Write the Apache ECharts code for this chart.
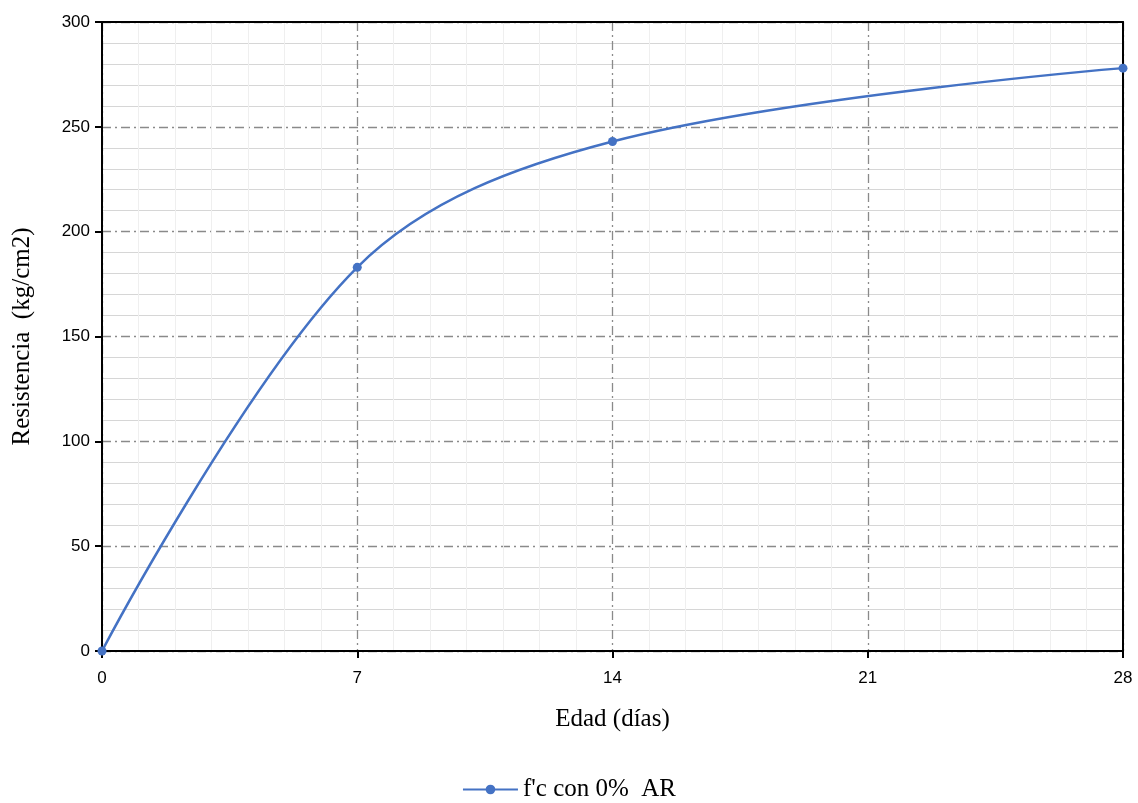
<!DOCTYPE html>
<html><head><meta charset="utf-8">
<script src="https://cdn.jsdelivr.net/npm/echarts@6/dist/echarts.min.js"></script>
<style>html,body{margin:0;padding:0;background:#fff}#c{width:1138px;height:803px}</style>
</head><body><div id="c"></div>
<script>
const edades = [0, 7, 14, 28];
const resistencia = [0, 183, 243, 278];
const xTicks = [0, 7, 14, 21, 28];
const yTicks = [0, 50, 100, 150, 200, 250, 300];
const seriesName = "f'c con 0%  AR";

const chart = echarts.init(document.getElementById('c'));
const dashDot = [9, 4, 2, 4];
chart.setOption({
  animation: false,
  grid: {left: 102, right: 15, top: 22, bottom: 152, outerBoundsMode: 'none', containLabel: false},
  legend: {
    bottom: -4, left: 'center', itemWidth: 55, itemHeight: 12, itemGap: 6,
    textStyle: {fontFamily: 'Liberation Serif', fontSize: 25, color: '#000'},
    data: [{name: seriesName}]
  },
  xAxis: [{
    type: 'value', min: 0, max: 28, interval: 7,
    name: 'Edad (días)', nameLocation: 'middle', nameGap: 56,
    nameTextStyle: {fontFamily: 'Liberation Serif', fontSize: 25, color: '#000'},
    axisLine: {show: true, onZero: false, lineStyle: {color: '#000', width: 2}},
    axisTick: {show: true, length: 7, lineStyle: {color: '#000', width: 2}},
    axisLabel: {fontFamily: 'Liberation Sans', fontSize: 17, color: '#000', margin: 19},
    splitLine: {show: true, lineStyle: {color: '#8a8a8a', width: 1.3, type: dashDot}},
    minorTick: {show: false, splitNumber: 7},
    minorSplitLine: {show: true, lineStyle: {color: '#efefef', width: 1}}
  }, {
    type: 'value', position: 'top', min: 0, max: 28, interval: 7,
    axisLine: {show: true, onZero: false, lineStyle: {color: '#000', width: 2}},
    axisTick: {show: false}, axisLabel: {show: false}, splitLine: {show: false}
  }],
  yAxis: [{
    type: 'value', min: 0, max: 300, interval: 50,
    name: 'Resistencia  (kg/cm2)', nameLocation: 'middle', nameGap: 67,
    nameTextStyle: {fontFamily: 'Liberation Serif', fontSize: 25, color: '#000'},
    axisLine: {show: true, onZero: false, lineStyle: {color: '#000', width: 2}},
    axisTick: {show: true, length: 7, lineStyle: {color: '#000', width: 2}},
    axisLabel: {fontFamily: 'Liberation Sans', fontSize: 17, color: '#000', margin: 12},
    splitLine: {show: true, lineStyle: {color: '#8a8a8a', width: 1.3, type: dashDot}},
    minorTick: {show: false, splitNumber: 5},
    minorSplitLine: {show: true, lineStyle: {color: '#d6d6d6', width: 1}}
  }, {
    type: 'value', position: 'right', min: 0, max: 300, interval: 50,
    axisLine: {show: true, onZero: false, lineStyle: {color: '#000', width: 2}},
    axisTick: {show: false}, axisLabel: {show: false}, splitLine: {show: false}
  }],
  series: [{
    name: seriesName, type: 'line', smooth: 0.35,
    data: edades.map((x, i) => [x, resistencia[i]]),
    symbol: 'circle', symbolSize: 9,
    lineStyle: {color: '#4472C4', width: 2.5},
    itemStyle: {color: '#4472C4'},
    z: 5
  }]
});
</script></body></html>
